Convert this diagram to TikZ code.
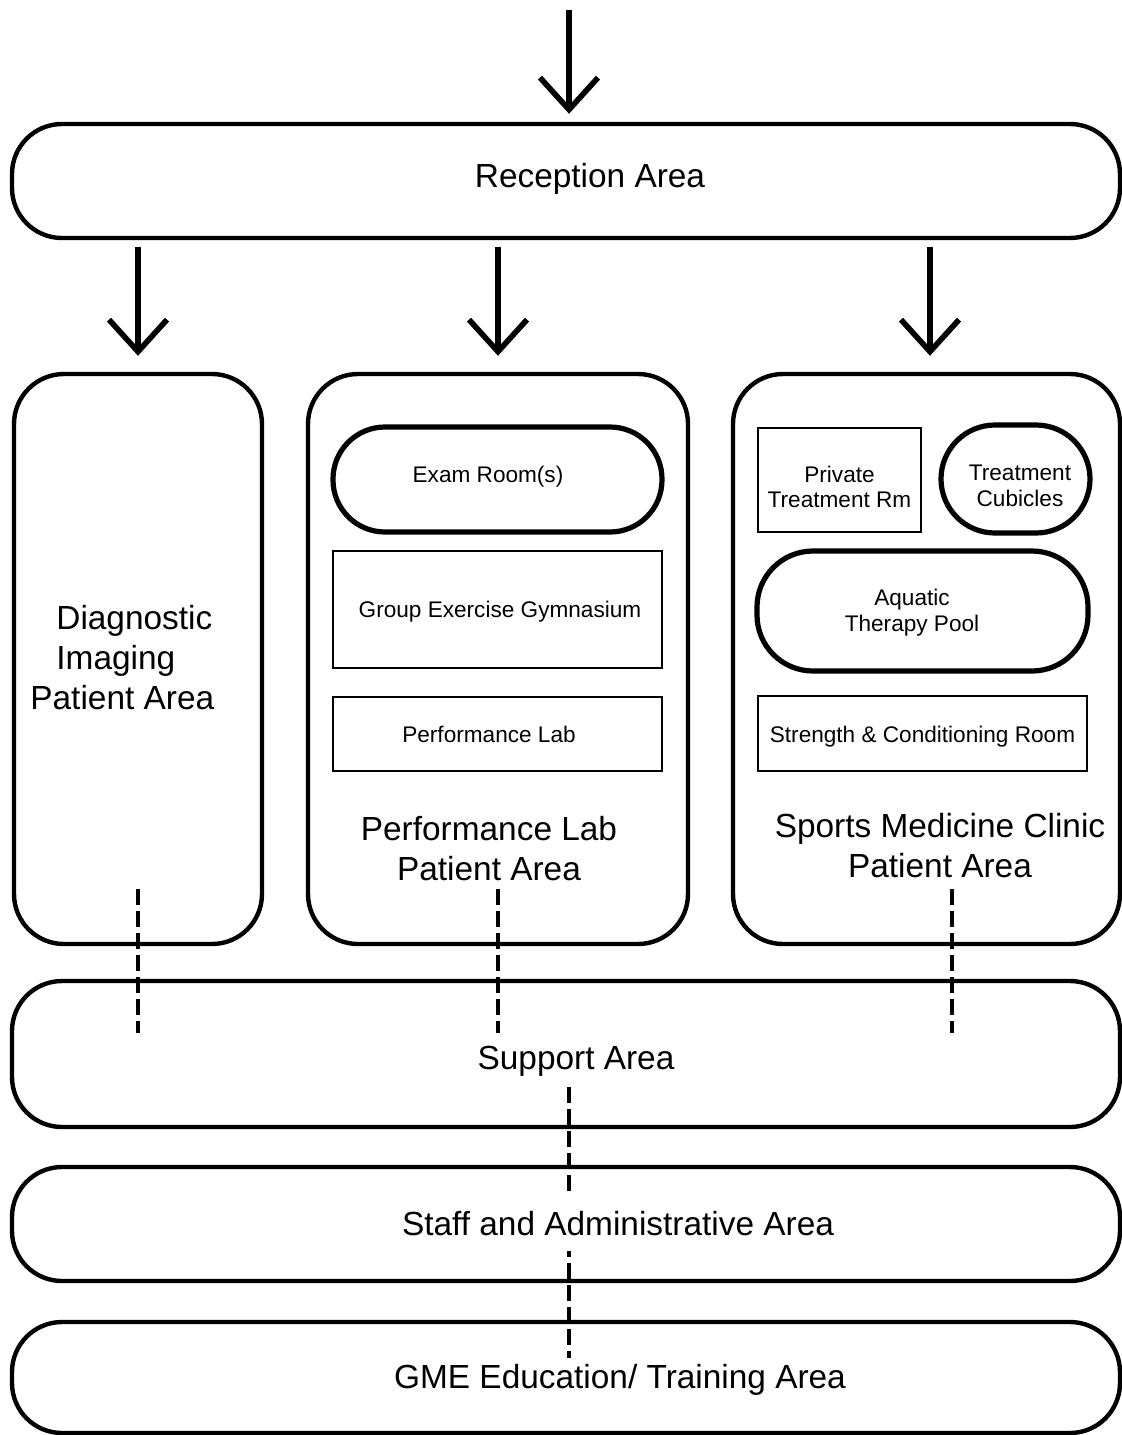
\documentclass[tikz,border=0pt]{standalone}
\usepackage{fontspec}
\setmainfont{Liberation Sans}
\usetikzlibrary{arrows.meta}

\begin{document}
\begin{tikzpicture}[x=0.5pt, y=-0.5pt,
		zone/.style={draw, line width=2.2pt, rounded corners=25pt, inner sep=0pt},
		pill/.style={draw, line width=2.6pt, inner sep=0pt},
		room/.style={draw, line width=0.7pt, inner sep=0pt},
		txt/.style={align=center, inner sep=0pt, font=\fontsize{11.3}{12.5}\selectfont},
		lbl/.style={align=center, inner sep=2pt, font=\fontsize{16.7}{20}\selectfont},
		flow/.style={-{Straight Barb[length=16pt, width=29pt]}, line width=2.8pt},
		link/.style={line width=1.7pt, dash pattern=on 8pt off 3pt}]
			\useasboundingbox (0,0) rectangle (1122,1435);

			% Areas
			\node[zone, minimum width=554pt, minimum height=57pt] (recep) at (566,181) {};
			\node[zone, minimum width=124pt, minimum height=285pt] (diag) at (138,659) {};
			\node[zone, minimum width=190pt, minimum height=285pt] (perf) at (498,659) {};
			\node[zone, minimum width=193.5pt, minimum height=285pt] (sport) at (926.5,659) {};
			\node[zone, minimum width=554pt, minimum height=73pt] (support) at (566,1054) {};
			\node[zone, minimum width=554pt, minimum height=57pt] (staff) at (566,1224) {};
			\node[zone, minimum width=554pt, minimum height=55.5pt] (gme) at (566,1377.5) {};

			% Rooms
			\node[pill, rounded corners=26pt, minimum width=164.5pt, minimum height=52.5pt] (exam) at (497.5,479.5) {};
			\node[room, minimum width=164.5pt, minimum height=58.5pt] (gym) at (497.5,609.5) {};
			\node[room, minimum width=164.5pt, minimum height=37pt] (plab) at (497.5,734) {};
			\node[room, minimum width=81.5pt, minimum height=52pt] (privrm) at (839.5,480) {};
			\node[pill, rounded corners=27pt, minimum width=74.5pt, minimum height=54pt] (cubic) at (1015.5,479) {};
			\node[pill, rounded corners=28pt, minimum width=165.5pt, minimum height=60pt] (pool) at (922.5,611) {};
			\node[room, minimum width=164.5pt, minimum height=37.5pt] (strength) at (922.5,733.5) {};

			\node[txt] (examtxt) at ([xshift=-4.75pt, yshift=1.5pt]exam.center) {Exam Room(s)};
			\node[txt] (gymtxt) at ([xshift=1.25pt, yshift=-1pt]gym.center) {Group Exercise Gymnasium};
			\node[txt] (plabtxt) at ([xshift=-4.25pt]plab.center) {Performance Lab};
			\node[txt] (privtxt) at ([yshift=-3.25pt]privrm.center) {Private\\Treatment Rm};
			\node[txt, font=\fontsize{11.3}{13}\selectfont] (cubictxt) at ([xshift=2.25pt, yshift=-3.5pt]cubic.center) {Treatment\\Cubicles};
			\node[txt, font=\fontsize{11.3}{13}\selectfont] (pooltxt) at ([xshift=-5.25pt, yshift=-0.75pt]pool.center) {Aquatic\\Therapy Pool};
			\node[txt] (strengthtxt) at ([yshift=-1.5pt]strength.center) {Strength \& Conditioning Room};

			% Arrows
			\coordinate (entry) at (569,10);
			\draw[flow, shorten >=4pt] (entry) -- (entry |- recep.north);
			\draw[flow, shorten <=3.5pt, shorten >=8pt] (recep.south -| diag.north) -- (diag.north);
			\draw[flow, shorten <=3.5pt, shorten >=8pt] (recep.south -| perf.north) -- (perf.north);
			\draw[flow, shorten <=3.5pt, shorten >=8pt] ([xshift=1.75pt]recep.south -| sport.north) -- ([xshift=1.75pt]sport.north);

			% Links
			\draw[link] ([yshift=28.5pt]diag.south) -- ([yshift=-27pt]support.north -| diag.south);
			\draw[link] ([yshift=28.5pt]perf.south) -- ([yshift=-27pt]support.north -| perf.south);
			\draw[link] ([xshift=12.75pt, yshift=28.5pt]sport.south) -- ([xshift=12.75pt, yshift=-27pt]support.north -| sport.south);
			\draw[link] ([xshift=1.5pt, yshift=21pt]support.south) -- ([xshift=1.5pt, yshift=-19pt]gme.north);

			% Labels
			\node[lbl] (receplbl) at (590,179) {Reception Area};
			\node[lbl, align=left, anchor=west, inner sep=0pt] (diaglbl) at (30,658) {\hspace*{13pt}Diagnostic\\\hspace*{13pt}Imaging\\Patient Area};
			\node[lbl] (perflbl) at (489,849) {Performance Lab\\Patient Area};
			\node[lbl] (sportlbl) at (940,846) {Sports Medicine Clinic\\Patient Area};
			\node[lbl] (supportlbl) at (576,1061) {Support Area};
			\node[lbl, fill=white, inner xsep=1pt, inner ysep=7.5pt] (stafflbl) at (618,1224) {Staff and Administrative Area};
			\node[lbl] (gmelbl) at (620,1380) {GME Education/ Training Area};
		\end{tikzpicture}
\end{document}
